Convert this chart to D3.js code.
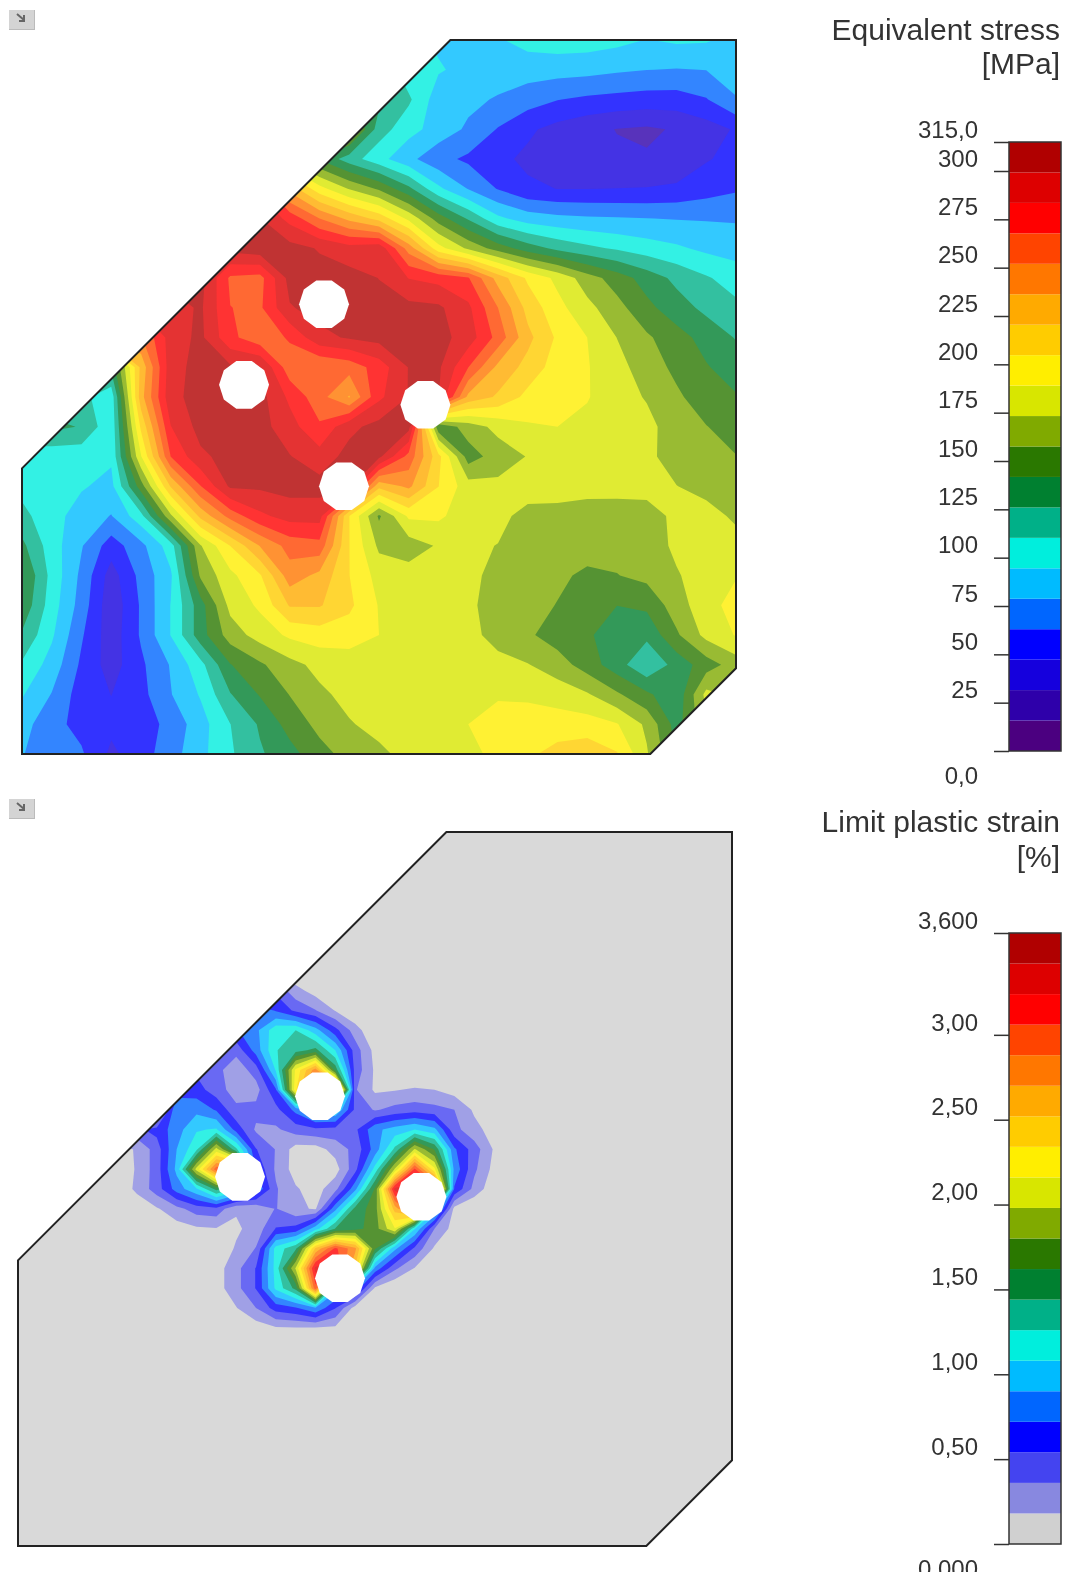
<!DOCTYPE html>
<html><head><meta charset="utf-8">
<script src="https://cdn.jsdelivr.net/npm/d3@7"></script>
<style>html,body{margin:0;padding:0;background:#fff}svg{display:block;filter:blur(.45px)}text{font-family:"Liberation Sans",Arial,sans-serif;fill:#333}</style>
</head><body><svg id="c" width="1066" height="1572"></svg>
<script>
// Colour key shared by both legends, from the lowest band up
const stressColors=["#4b0080","#2e00aa","#1500dd","#0000ff","#0066ff","#00bbff","#00eedd","#00b088","#008030","#2a7800","#80aa00","#d8e600","#ffee00","#ffcc00","#ffaa00","#ff7700","#ff4400","#ff0000","#dd0000","#b00000"];
const strainColors=["#d0d0d0","#8888e0","#4444f0","#0000ff","#0066ff","#00bbff","#00eedd","#00b088","#008030","#2a7800","#80aa00","#d8e600","#ffee00","#ffcc00","#ffaa00","#ff7700","#ff4400","#ff0000","#dd0000","#b00000"];
const stressTicks=[0,25,50,75,100,125,150,175,200,225,250,275,300,315];
const stressLabels=["0,0","25","50","75","100","125","150","175","200","225","250","275","300","315,0"];
const strainTicks=[0,0.5,1,1.5,2,2.5,3,3.6];
const strainLabels=["0,000","0,50","1,00","1,50","2,00","2,50","3,00","3,600"];
// Plate geometry in plate units (0..1000)
const plateOutline=[[600,0],[1000,0],[1000,880],[880,1000],[0,1000],[0,600]];
const holes=[[423,370],[311,483],[565,511],[451,625]];
const holeRadius=35;
// Equivalent stress [MPa] read at 25x25 nodes over the plate
const stressGrid=[
[110,110,110,110,110,110,110,110,110,110,110,110,110,100,92,90,93,100,103,102,99,94,97,96,90],
[125,125,125,125,125,125,125,125,125,125,125,125,125,100,96,90,88,86,85,84,81,79,78,79,84],
[140,140,140,140,140,140,140,140,140,140,140,140,130,113,86,83,77,70,63.5,60,58,56,56,62,78],
[170,170,170,170,170,170,170,170,170,170,170,170,118,100,88,76,62,50,42,36,31,29,33,40,49],
[170,170,170,170,170,170,170,170,170,170,140,118,100,83,68,60,51,44,40,36,34,33,36,46,52],
[280,280,280,280,280,280,280,280,280,230,195,172,155,130,98,78,62,50,47,47,47.5,48,50,56,61],
[300,300,300,300,300,300,300,300,300,278,252,232,215,185,150,124,98,87,83,81,80,79,78,77.5,77],
[305,305,305,305,305,305,305,305,310,305,298,290,294,245,195,170,150,134,122,114,108,102,97,91,88],
[305,305,305,305,305,305,305,265,262,305,305,305,299,283,278,269,230,202,185,165,150,135,122,112,103],
[290,290,290,290,290,290,302,268,265,298,305,305,303,304,302,287,252,215,194,178,163,146,133,122,114],
[250,250,250,250,250,291,303,272,257,270,295,301,305,305,305,292,262,225,202,189,173,160,148,136,125],
[130,130,130,130,225,293,305,302,300,258,252,258,275,300,302,268,232,215,197,190,179,165,154,143,134],
[115,115,115,100,230,295,305,305,305,280,258,235,280,300,300,232,218,200,195,190,180,172,160,150,143],
[130,130,125,98,208,283,305,305,305,290,270,295,305,305,145,165,178,187,189,185,180,178,165,158,151],
[100,100,100,97,188,268,296,305,305,300,290,305,303,262,210,150,165,174,180,183,180,176,168,163,158],
[105,96,96,90,150,222,267,302,302,305,305,305,225,240,205,180,177,178,180,178,177,176,173.5,169,165],
[115,100,88,78,105,170,225,258,280,290,290,205,155,192,192,180,176,170,168,167,168,170,175,178,171],
[130,102,80,55,74,103,172,205,237,258,262,205,170,165,175,175,173,167,164,163,163,166,176,180,178],
[143,105,75,40,68,92,160,185,203,245,232,205,183,180,178,176,170,166,160,155,157,162,172,180,188],
[138,102,72,36,65,95,135,178,192,222,222,208,188,178,177,176,167,162,157,146,142,145,166,183,195],
[124,97,65,38,65,95,135,165,180,192,197,197,189,178,177,176,170,160,150,145,130,130,155,178,190],
[108,88,60,40,60,80,105,141,155,168,178,180,180,179,178,177,176,174,165,150,133,112,132,150,165],
[96,78,55,47,58,78,96,125,143,158,170,178,182,185,186,186,187,186,182,175,160,145,130,178,170],
[85,68,58,51,55,68,88,110,128,148,162,172,178,183,186,189,196,197,197,196,190,170,135,170,170],
[80,66,65,44,56,72,90,108,124,136,152,163,170,178,180,186,192,202,210,215,206,175,140,160,160]];
// Limit plastic strain [%] read at 37x37 nodes; rows 8..25, columns 5..24 carry the non-zero part
const strainSize=37, strainRowStart=8, strainColStart=5;
const strainRows=[
[0,0,0,0,0,0,0,0,.5,.25,.1,0,0,0,0,0,0,0,0,0],
[0,0,0,0,0,0,0,.9,.7,.5,.37,.17,0,0,0,0,0,0,0,0],
[0,0,0,0,0,0,.7,.85,1.2,1.26,.98,.6,.27,0,0,0,0,0,0,0],
[0,0,0,0,0,.5,.42,.8,1.25,1.36,1.5,1.08,.45,.12,0,0,0,0,0,0],
[0,0,0,0,.5,.42,.24,.45,1.1,2.2,2.8,1.55,.47,.15,0,0,0,0,0,0],
[0,0,0,.6,.62,.44,.28,.28,.7,2.3,3.3,3.3,.38,.15,.17,.2,.18,.1,0,0],
[0,0,0,.9,.85,.7,.4,.42,.48,.78,1.1,1.1,.5,.34,.42,.46,.42,.36,.15,0],
[.9,.5,.6,.82,1.06,1.1,.65,.33,.33,.45,.5,.48,.5,.85,.98,1.08,.95,.42,.24,.1],
[.1,.2,.45,.9,1.22,2.05,1.3,.55,.35,.1,.1,.25,.42,.8,1.3,2,1.6,.75,.45,.16],
[.05,.2,.45,.95,2.05,3,3,.7,.33,.1,.05,.1,.48,1.15,2,3.1,2.2,.85,.4,.12],
[.05,.22,.45,.8,1.05,1.5,1.2,.9,.38,.2,.1,.3,.85,1.65,3.3,3.3,3.3,.7,.3,.05],
[0,.06,.16,.3,.45,.48,.2,.22,.37,.22,.16,.85,1.5,1.72,2.6,3.2,1.2,.12,0,0],
[0,0,.05,.1,.15,.17,.15,.25,.55,.6,1,1.45,1.55,1.72,2.15,1.1,.36,.1,0,0],
[0,0,0,0,0,.05,.2,.37,1.15,1.4,2.55,3.1,2.75,1.65,.95,.5,.15,0,0,0],
[0,0,0,0,0,.1,.3,.55,1.15,2,3.3,3.3,2.5,.85,.4,.17,0,0,0,0],
[0,0,0,0,0,.1,.3,.55,1.12,1.5,3,1,.9,.15,0,0,0,0,0,0],
[0,0,0,0,0,0,.17,.36,.62,.7,.88,.55,.1,0,0,0,0,0,0,0],
[0,0,0,0,0,0,0,.08,.16,.17,.17,.15,0,0,0,0,0,0,0,0]];

const svg=d3.select("#c");
const shade=c=>d3.interpolateRgb("#fff",c)(0.8);

function panel(o){
  const g=svg.append("g");
  const x=d3.scaleLinear([0,1000],o.px), y=d3.scaleLinear([0,1000],o.py);
  const nx=o.n, gx=d3.scaleLinear([.5,nx-.5],[0,1000]);
  const id="clip"+o.id;
  const outline=d3.line().x(d=>x(d[0])).y(d=>y(d[1])).curve(d3.curveLinearClosed);
  g.append("clipPath").attr("id",id).append("path").attr("d",outline(plateOutline));
  const step=o.max/o.colors.length;
  const thresholds=o.colors.map((_,i)=>i*step);
  const contours=d3.contours().size([nx,nx]).smooth(true).thresholds(thresholds)(o.values);
  const path=d3.geoPath(d3.geoTransform({point(a,b){this.stream.point(x(gx(a)),y(gx(b)));}}));
  g.append("g").attr("clip-path",`url(#${id})`).selectAll("path").data(contours).join("path")
    .attr("d",path).attr("fill",(d,i)=>shade(o.colors[i]));
  const r=x(holeRadius)-x(0);
  const ring=d3.range(10).map(i=>i*Math.PI/5+Math.PI/10);
  const hole=d3.lineRadial().angle(d=>d).radius(r).curve(d3.curveLinearClosed);
  g.selectAll("path.h").data(holes).join("path").attr("class","h")
    .attr("transform",d=>`translate(${x(d[0])},${y(d[1])})`).attr("d",hole(ring)).attr("fill","#fff");
  g.append("path").attr("d",outline(plateOutline)).attr("fill","none").attr("stroke","#222").attr("stroke-width",2);
  // small export icon
  const ic=g.append("g").attr("transform",`translate(9,${o.iconY})`);
  ic.append("rect").attr("width",26).attr("height",20).attr("fill","#d4d4d4");
  ic.append("path").attr("d","M0 19.5H26M25.5 0V20").attr("stroke","#bbb").attr("fill","none");
  ic.append("path").attr("d","M8 4L15 10M15 5V11H10").attr("stroke","#666").attr("stroke-width",2).attr("fill","none");
  // legend
  const sc=d3.scaleLinear([0,o.max],o.ly);
  const L=svg.append("g");
  L.selectAll("rect").data(o.colors).join("rect").attr("x",1009).attr("width",52)
    .attr("y",(d,i)=>sc((i+1)*step)).attr("height",(d,i)=>sc(i*step)-sc((i+1)*step)).attr("fill",d=>d);
  L.append("rect").attr("x",1009).attr("width",52).attr("y",o.ly[1]).attr("height",o.ly[0]-o.ly[1]).attr("fill","none").attr("stroke","#333").attr("stroke-width",1.5);
  const ax=d3.axisLeft(sc).tickValues(o.ticks).tickSize(15).tickPadding(16).tickFormat((d,i)=>o.labels[i]);
  const a=L.append("g").attr("transform","translate(1009,0)").call(ax);
  a.select(".domain").remove();
  a.selectAll("line").attr("stroke","#333").attr("stroke-width",1.5);
  a.selectAll("text").attr("font-size",24).attr("font-family",'"Liberation Sans",Arial,sans-serif').attr("fill","#333")
    .attr("dy",d=>d===0?"1.37em":"-0.2em");
  o.title.forEach((t,i)=>svg.append("text").attr("x",1060).attr("y",o.titleY[i]).attr("text-anchor","end").attr("font-size",30).attr("fill","#3a3a3a").text(t));
}
const strainValues=[];
for(let j=0;j<strainSize;j++)for(let i=0;i<strainSize;i++){
  const row=strainRows[j-strainRowStart];
  const v=row?row[i-strainColStart]:undefined;
  strainValues.push(v===undefined?0:v);
}
panel({id:1,px:[22,736],py:[40,754],n:25,values:stressGrid.flat(),colors:stressColors,max:315,ly:[751,142],ticks:stressTicks,labels:stressLabels,title:["Equivalent stress","[MPa]"],titleY:[40,74],iconY:10});
panel({id:2,px:[18,732],py:[832,1546],n:strainSize,values:strainValues,colors:strainColors,max:3.6,ly:[1544,933],ticks:strainTicks,labels:strainLabels,title:["Limit plastic strain","[%]"],titleY:[832,867],iconY:799});
</script></body></html>
